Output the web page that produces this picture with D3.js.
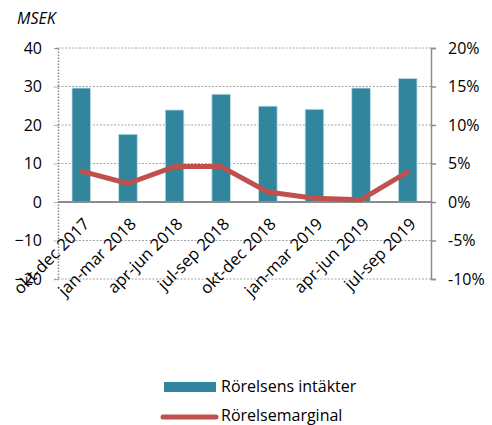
<!DOCTYPE html>
<html><head><meta charset="utf-8">
<script src="https://cdn.jsdelivr.net/npm/d3@7"></script>
<style>body{margin:0;background:#fff}svg{display:block}</style>
</head><body>
<svg id="c" width="492" height="425"></svg>
<script>
const categories = ["okt-dec 2017","jan-mar 2018","apr-jun 2018","jul-sep 2018","okt-dec 2018","jan-mar 2019","apr-jun 2019","jul-sep 2019"];
const revenue = [29.6, 17.6, 23.9, 28.0, 24.9, 24.1, 29.6, 32.1];
const margin = [4.0, 2.4, 4.6, 4.6, 1.3, 0.5, 0.3, 3.9];
const leftTicks = [-20,-10,0,10,20,30,40];
const rightTicks = [-10,-5,0,5,10,15,20];
const seriesNames = ["Rörelsens intäkter","Rörelsemarginal"];

const svg = d3.select("#c");
const font = "Open Sans, sans-serif";
const L = 58, R = 431, T = 48, B = 279;
const x = d3.scaleBand().domain(categories).range([L, R]).paddingInner(0.6).paddingOuter(0.3);
const xc = d3.scalePoint().domain(categories).range([L, R]).padding(0.5);
const y = d3.scaleLinear().domain([-20, 40]).range([B, T]);
const y2 = d3.scaleLinear().domain([-10, 20]).range([B, T]);

// gridlines
svg.append("g").selectAll("line").data(leftTicks.filter(d => d !== 0)).join("line")
  .attr("x1", L).attr("x2", R).attr("y1", d => y(d)).attr("y2", d => y(d))
  .attr("stroke", "#a6a6a6").attr("stroke-width", 1).attr("stroke-dasharray", "2,1.5");

// left axis
const la = svg.append("g").attr("transform", `translate(${L},0)`)
  .call(d3.axisLeft(y).tickValues(leftTicks).tickSize(4).tickPadding(12));
la.select(".domain").attr("stroke", "#8c8c8c").attr("stroke-dasharray", "1.5,1.5").attr("stroke-width", 1.5);
la.selectAll(".tick line").attr("stroke", "#8c8c8c").attr("stroke-dasharray", "1.5,1");
la.selectAll("text").attr("font-family", font).attr("font-size", 16).attr("fill", "#000");

// bars
svg.append("g").selectAll("rect").data(revenue).join("rect")
  .attr("x", (d, i) => x(categories[i])).attr("width", x.bandwidth())
  .attr("y", d => y(d)).attr("height", d => y(0) - y(d))
  .attr("fill", "#31869e").attr("stroke", "#c6e3ea").attr("stroke-width", 0.8);

// zero line
svg.append("line").attr("x1", L).attr("x2", R).attr("y1", y(0)).attr("y2", y(0))
  .attr("stroke", "#8c8c8c").attr("stroke-width", 2);

// right axis
const ra = svg.append("g").attr("transform", `translate(${R},0)`)
  .call(d3.axisRight(y2).tickValues(rightTicks).tickSize(5).tickPadding(12).tickFormat(d => d + "%"));
ra.select(".domain").attr("stroke", "#8c8c8c").attr("stroke-width", 1.5);
ra.selectAll(".tick line").attr("stroke", "#8c8c8c").attr("stroke-width", 1.5);
ra.selectAll("text").attr("font-family", font).attr("font-size", 16).attr("fill", "#000");

// line
svg.append("path").datum(margin)
  .attr("d", d3.line().x((d, i) => xc(categories[i])).y(d => y2(d)))
  .attr("fill", "none").attr("stroke", "#c0504d").attr("stroke-width", 5).attr("stroke-linejoin", "round").attr("stroke-linecap", "round");

// category labels
svg.append("g").selectAll("text").data(categories).join("text")
  .attr("transform", d => `translate(${xc(d) + 1},${y(0) + 15}) rotate(-45)`)
  .attr("text-anchor", "end").attr("dy", "0.7em")
  .attr("font-family", font).attr("font-size", 16.5).attr("fill", "#000").text(d => d);

// unit
svg.append("text").attr("x", 17).attr("y", 24).attr("font-family", font).attr("font-style", "italic")
  .attr("font-size", 16).attr("fill", "#000").text("MSEK");

// legend
const lg = svg.append("g");
lg.append("rect").attr("x", 164).attr("y", 382).attr("width", 52).attr("height", 10).attr("fill", "#31869e");
lg.append("text").attr("x", 221).attr("y", 392).attr("font-family", font).attr("font-size", 16).attr("fill", "#000").text(seriesNames[0]);
lg.append("line").attr("x1", 163).attr("x2", 216).attr("y1", 417).attr("y2", 417)
  .attr("stroke", "#c0504d").attr("stroke-width", 5).attr("stroke-linecap", "round");
lg.append("text").attr("x", 221).attr("y", 421).attr("font-family", font).attr("font-size", 16).attr("fill", "#000").text(seriesNames[1]);
</script>
</body></html>
